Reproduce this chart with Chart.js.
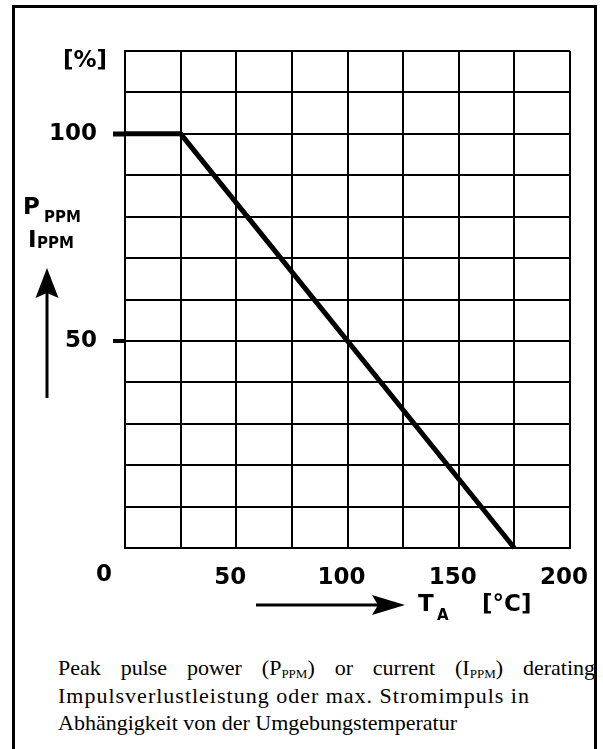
<!DOCTYPE html>
<html>
<head>
<meta charset="utf-8">
<script src="https://cdn.jsdelivr.net/npm/chart.js@4.4.0/dist/chart.umd.min.js"></script>
<style>
  html, body { margin: 0; padding: 0; background: #fff; }
  body { width: 603px; height: 749px; position: relative; overflow: hidden; }
  #frame { position: absolute; left: 12px; top: 5px; width: 579px; height: 800px; border: 3px solid #000; border-bottom: none; z-index: 5; }
  #chart { position: absolute; left: 0; top: 0; }
  #deco { position: absolute; left: 0; top: 0; z-index: 4; }
  .lbl { position: absolute; font-family: "DejaVu Sans", sans-serif; font-weight: bold; color: #000; white-space: nowrap; line-height: 1; z-index: 4; }
  .big { font-size: 23px; }
  .small { font-size: 15px; }
  #caption { position: absolute; left: 58px; top: 654px; width: 537px; font-family: "Liberation Serif", "Times New Roman", serif; font-size: 22px; line-height: 27.5px; color: #000; z-index: 3; }
  #caption .j { text-align: justify; text-align-last: justify; }
  #caption .wide { letter-spacing: 1px; }
  #caption sub { font-size: 13px; vertical-align: -3px; line-height: 0; }
</style>
</head>
<body>
<canvas id="chart" width="603" height="640"></canvas>

<div class="lbl big" style="left:63px; top:48px;">[%]</div>
<div class="lbl big" style="left:23px; top:195px;">P</div>
<div class="lbl small" style="left:44px; top:210px;">PPM</div>
<div class="lbl big" style="left:28px; top:228px;">I</div>
<div class="lbl small" style="left:37px; top:236px;">PPM</div>
<div class="lbl big" style="left:96px; top:562px;">0</div>
<div class="lbl big" style="left:418px; top:592px;">T</div>
<div class="lbl small" style="left:437px; top:608px;">A</div>
<div class="lbl big" style="left:482px; top:592px;">[°C]</div>

<svg id="deco" width="603" height="749">
  <line x1="47" y1="398" x2="47" y2="290" stroke="#000" stroke-width="3"/>
  <polygon points="47,268 35.5,298 47,293 58.5,298" fill="#000"/>
  <line x1="256" y1="605" x2="385" y2="605" stroke="#000" stroke-width="3"/>
  <polygon points="405,605 372,595 378,605 372,615" fill="#000"/>
</svg>

<div id="caption">
  <div class="j">Peak pulse power (P<sub>PPM</sub>) or current (I<sub>PPM</sub>) derating</div>
  <span class="wide">Impulsverlustleistung oder max. Stromimpuls in</span><br>
  Abhängigkeit von der Umgebungstemperatur
</div>

<div id="frame"></div>

<script>
// derating curve: ambient temperature (°C) vs. allowed peak pulse power / current (%)
const temps = [0, 25, 175];
const derating = [100, 100, 0];
// tick labels that are printed on the axes
const xTickLabels = [50, 100, 150, 200];
const yTickLabels = [50, 100];

const tickFont = { family: 'DejaVu Sans', weight: 'bold', size: 23 };

const ctx = document.getElementById('chart').getContext('2d');
const chart = new Chart(ctx, {
    type: 'line',
    data: {
        datasets: [{
            data: temps.map((t, i) => ({ x: t, y: derating[i] })),
            borderColor: '#000',
            borderWidth: 5,
            pointRadius: 0,
            tension: 0,
            clip: false
        }]
    },
    options: {
        responsive: false,
        animation: false,
        layout: { padding: { left: 0, top: 51, right: 33, bottom: 0 } },
        plugins: { legend: { display: false }, tooltip: { enabled: false } },
        scales: {
            x: {
                type: 'linear',
                min: 0,
                max: 200,
                afterFit: s => { s.height = 92; s.paddingLeft = 0; s.paddingRight = 0; },
                border: { display: true, color: '#000', width: 2 },
                grid: { color: '#000', lineWidth: 2, drawTicks: false },
                ticks: {
                    stepSize: 25,
                    autoSkip: false,
                    maxRotation: 0,
                    padding: 16,
                    labelOffset: -6,
                    color: '#000',
                    font: tickFont,
                    callback: v => xTickLabels.includes(v) ? String(v) : ''
                }
            },
            y: {
                min: 0,
                max: 120,
                afterFit: s => { s.width = 125; s.paddingTop = 0; s.paddingBottom = 0; },
                border: { display: true, color: '#000', width: 2 },
                grid: {
                    color: '#000',
                    lineWidth: 2,
                    tickLength: 12,
                    tickColor: c => (c.tick && yTickLabels.includes(c.tick.value)) ? '#000' : 'rgba(0,0,0,0)',
                    tickWidth: c => (c.tick && c.tick.value === 100) ? 5 : 4
                },
                ticks: {
                    stepSize: 10,
                    autoSkip: false,
                    padding: 16,
                    color: '#000',
                    font: tickFont,
                    callback: v => yTickLabels.includes(v) ? String(v) : ''
                }
            }
        }
    }
});
</script>
</body>
</html>
